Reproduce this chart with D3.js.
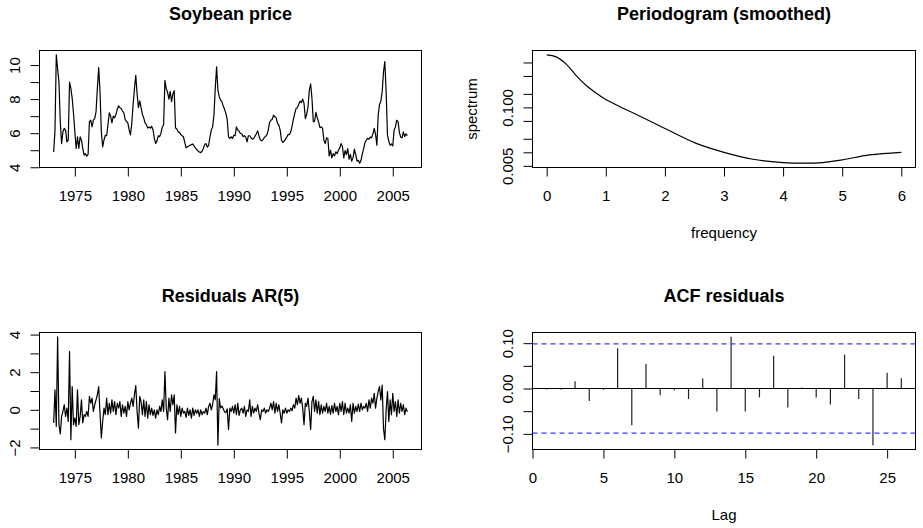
<!DOCTYPE html>
<html><head><meta charset="utf-8">
<script src="https://cdn.jsdelivr.net/npm/d3@7"></script>
<style>
body{margin:0;background:#fff}
text{font-family:"Liberation Sans",Arial,Helvetica,sans-serif;fill:#000}
</style></head><body>
<svg id="c" width="923" height="528"></svg>
<script>
// ---------- data ----------
const soyStart = 1973, soyStep = 0.125;
const soyPrice = [
4.9,6.15,10.6,9.8,9.0,6.67,5.39,6.08,6.28,6.18,
5.49,5.59,9.0,8.63,8.04,7.16,6.08,5.1,5.79,5.1,
5.79,5.59,5.1,4.71,4.8,4.65,4.75,6.67,6.76,6.37,
6.76,6.86,7.26,8.63,9.85,8.43,6.08,5.2,5.6,5.88,
5.85,6.5,7.2,7.0,6.6,7.0,6.9,7.1,7.4,7.6,
7.5,7.45,7.3,7.2,6.8,6.7,6.6,6.2,5.9,6.6,
7.7,8.6,9.4,8.3,7.5,7.9,7.5,7.1,6.9,6.6,
6.5,6.3,6.37,6.3,6.4,6.2,5.7,5.4,5.55,5.85,
5.8,6.0,6.35,6.5,9.1,8.6,8.4,8.0,8.45,7.85,
8.3,8.5,6.3,6.25,6.08,6.05,5.92,5.85,5.79,5.45,
5.14,5.2,5.25,5.29,5.33,5.37,5.25,5.14,5.04,4.96,
4.9,4.86,4.94,5.1,5.33,5.39,5.18,5.29,5.79,6.18,
6.37,7.06,8.63,9.9,8.53,8.14,7.94,7.85,7.6,7.4,
7.16,6.82,5.79,5.69,5.79,5.69,5.88,5.85,6.37,6.18,
6.12,5.98,5.96,5.8,5.85,5.77,5.49,5.85,5.85,5.73,
5.65,5.69,5.82,5.96,6.14,5.85,5.61,5.55,5.61,5.75,
5.81,5.92,6.18,6.63,6.76,6.82,7.06,6.96,6.9,6.57,
6.47,6.18,5.59,5.45,5.53,5.65,5.77,5.92,5.92,6.08,
6.43,6.82,7.16,7.45,7.5,7.7,7.88,7.8,8.0,7.75,
6.86,7.1,7.55,8.53,8.9,8.04,6.67,6.7,7.22,6.9,
6.67,6.32,6.37,6.28,5.59,5.39,5.73,5.69,4.67,5.0,
4.55,4.8,4.67,4.9,4.8,5.0,5.14,5.39,5.22,4.55,
4.98,4.75,5.1,4.47,4.75,4.36,4.55,5.06,4.75,4.36,
4.41,4.24,4.41,4.78,5.1,5.45,5.59,5.69,5.65,5.77,
5.73,5.96,6.28,5.92,5.29,7.06,7.69,7.88,8.43,9.6,
10.2,8.43,5.88,5.53,5.29,5.37,5.25,6.18,6.37,6.76,
6.67,6.04,5.77,5.73,6.08,5.8,5.96,5.85];
const residAR5 = [
-0.7,1.06,-0.88,3.88,-0.79,-1.28,-0.35,-0.09,0.27,-0.35,
0.09,-0.62,3.09,-1.59,1.24,-0.79,-0.44,-0.88,1.06,-0.79,
-0.35,0.53,-0.7,-0.26,-0.35,-0.09,-0.35,0.71,0.35,0.62,
-0.09,0.27,0.53,0.8,1.24,-0.18,-1.5,-0.62,0.09,-0.26,
0.62,-0.26,0.35,-0.18,0.53,-0.09,0.44,-0.26,0.35,0.09,
0.44,-0.35,0.27,-0.18,0.18,-0.35,0.44,0,0.35,0.62,
0.18,0.8,1.29,-0.09,-0.97,0.71,0.44,-0.26,0.53,-0.35,
0.44,-0.44,0.27,-0.26,0.09,-0.3,0,-0.44,0,-0.26,
0.18,-0.09,0.53,-0.09,2.03,0.09,-0.53,0.62,-0.09,0.8,
0.27,0.8,-1.23,0.27,-0.26,0.18,-0.35,0.09,-0.18,-0.09,
-0.4,0.09,-0.3,0,-0.44,0.09,-0.3,0,-0.18,0,
-0.35,0,-0.26,-0.09,-0.18,0.09,-0.26,0.18,0.35,0,
0.27,0.8,0.53,2.03,-1.88,0.6,0.1,0.2,0.05,-0.1,
-0.15,0.05,-1.05,0.09,-0.09,0.18,-0.18,0.27,-0.26,0.35,
-0.3,0,0.09,-0.18,0.18,-0.35,0,-0.09,0.53,-0.35,
0.18,-0.18,0.09,-0.09,0.27,-0.18,-0.53,0,-0.09,0.09,
-0.18,0,-0.09,0.09,0.35,0,0.44,-0.18,0.35,-0.09,
0.27,-0.18,-0.7,0,-0.18,0.09,-0.18,0,-0.09,0.09,
-0.05,0.27,0.09,0.62,0.27,0.75,0.35,0.62,0.09,-0.79,
0.35,0.18,0.62,-0.09,-1.05,0.44,0.71,-0.09,0.53,-0.18,
0.44,-0.26,0.27,-0.18,0.18,-0.09,0.35,-0.18,0.18,-0.24,
0.22,-0.18,0.35,-0.09,0.18,-0.26,0.35,-0.09,0.44,-0.26,
0.35,-0.18,0.09,-0.18,0.27,-0.62,0.35,-0.18,0.18,-0.09,
0.3,-0.09,0.35,0,0.18,0.09,0.35,-0.09,0.53,0.09,
0.62,0.35,0.88,0.09,0.62,0.97,1.24,0.53,1.32,-1.0,
-1.59,0,0.97,-0.62,0.53,-0.26,0.88,-0.09,0.44,-0.35,
0.53,-0.18,0.35,-0.09,0.27,-0.26,0.09,-0.1];
const yearTicks = [1975,1980,1985,1990,1995,2000,2005];
const soyYTicks = [4,5,6,7,8,9,10];
const soyYLabels = [4,6,8,10];
const residYTicks = [-2,-1,0,1,2,3,4];
const residYLabels = [-2,0,2,4];

const specFreq  = [0,0.16,0.33,0.5,0.67,0.84,1.0,1.23,1.51,2.0,2.53,3.0,3.49,4.0,4.33,4.67,5.0,5.46,6.0];
const specValue = [1.479,1.334,0.92,0.508,0.306,0.207,0.15,0.105,0.0702,0.0339,0.0158,0.01,0.00701,0.00592,0.00573,0.00592,0.00678,0.00875,0.01];
const specXTicks = [0,1,2,3,4,5,6];
const specYTicks = [0.005,0.01,0.02,0.05,0.1,0.2,0.5,1];
const specYLabels = [0.005,0.1];

const acfLag   = [1,2,3,4,5,6,7,8,9,10,11,12,13,14,15,16,17,18,19,20,21,22,23,24,25,26];
const acfValue = [-0.002,-0.002,0.016,-0.0275,-0.003,0.089,-0.081,0.054,-0.015,-0.004,-0.023,0.022,-0.051,0.114,-0.051,-0.0195,0.072,-0.042,0.002,-0.02,-0.0355,0.075,-0.023,-0.125,0.035,0.0225];
const acfCI = 0.0985;
const acfXTicks = [0,5,10,15,20,25];
const acfYTicks = [-0.1,-0.05,0,0.05,0.1];
const acfYLabels = [-0.1,0,0.1];

// ---------- layout ----------
const svg = d3.select("#c");
const boxes = {
  tl:{x0:39.5, x1:421.5, y0:50.5, y1:167.5},
  tr:{x0:532.5,x1:915.5, y0:50.5, y1:167.5},
  bl:{x0:39.5, x1:421.5, y0:332.5,y1:449.5},
  br:{x0:532.5,x1:915.5, y0:332.5,y1:449.5}
};
const rext = ([a,b]) => [a-0.04*(b-a), b+0.04*(b-a)];
const FS = 15;

function frame(b, title, xlab, ylab){
  svg.append("rect").attr("x",b.x0).attr("y",b.y0).attr("width",b.x1-b.x0).attr("height",b.y1-b.y0)
    .attr("fill","none").attr("stroke","#000").attr("stroke-width",1);
  const mx=(b.x0+b.x1)/2, my=(b.y0+b.y1)/2;
  svg.append("text").attr("x",mx).attr("y",b.y0-30.5).attr("text-anchor","middle")
    .attr("font-size",18).attr("font-weight","bold").text(title);
  if(xlab) svg.append("text").attr("x",mx).attr("y",b.y1+70).attr("text-anchor","middle").attr("font-size",FS).text(xlab);
  if(ylab) svg.append("text").attr("transform",`translate(${b.x0-56},${my}) rotate(-90)`).attr("text-anchor","middle").attr("font-size",FS).text(ylab);
}
function xAxis(b, x, ticks, fmt){
  const g = svg.append("g").attr("transform",`translate(0,${b.y1})`)
    .call(d3.axisBottom(x).tickValues(ticks).tickSize(9).tickSizeOuter(0).tickPadding(13.8).tickFormat(fmt));
  g.select(".domain").remove();
  g.attr("font-size",FS).attr("font-family",null);
  g.selectAll(".tick line").attr("stroke","#000");
  g.selectAll(".tick text").attr("fill","#000");
}
function yAxis(b, y, ticks, fmt){
  const g = svg.append("g").attr("transform",`translate(${b.x0},0)`)
    .call(d3.axisLeft(y).tickValues(ticks).tickSize(9).tickSizeOuter(0).tickFormat(fmt));
  g.select(".domain").remove();
  g.attr("font-size",FS).attr("font-family",null);
  g.selectAll(".tick line").attr("stroke","#000");
  g.selectAll(".tick text").attr("fill","#000").attr("x",0).attr("dy",null)
    .attr("text-anchor","middle").attr("transform","translate(-20,0) rotate(-90)");
}
const labelIf = (list, f) => d => list.some(v => Math.abs(v-d)<1e-9) ? f(d) : "";

// ---------- Soybean price ----------
{
  const b = boxes.tl;
  const t = soyPrice.map((v,i)=>soyStart+i*soyStep);
  const x = d3.scaleLinear().domain(rext(d3.extent(t))).range([b.x0,b.x1]);
  const y = d3.scaleLinear().domain(rext(d3.extent(soyPrice))).range([b.y1,b.y0]);
  svg.append("path").datum(soyPrice).attr("fill","none").attr("stroke","#000").attr("stroke-width",1.2)
    .attr("stroke-linejoin","round")
    .attr("d", d3.line().x((v,i)=>x(t[i])).y(v=>y(v)));
  frame(b,"Soybean price");
  xAxis(b,x,yearTicks,d3.format("d"));
  yAxis(b,y,soyYTicks,labelIf(soyYLabels,d3.format("d")));
}
// ---------- Residuals ----------
{
  const b = boxes.bl;
  const t = residAR5.map((v,i)=>soyStart+i*soyStep);
  const x = d3.scaleLinear().domain(rext(d3.extent(t))).range([b.x0,b.x1]);
  const y = d3.scaleLinear().domain(rext(d3.extent(residAR5))).range([b.y1,b.y0]);
  svg.append("path").datum(residAR5).attr("fill","none").attr("stroke","#000").attr("stroke-width",1.2)
    .attr("stroke-linejoin","round")
    .attr("d", d3.line().x((v,i)=>x(t[i])).y(v=>y(v)));
  frame(b,"Residuals AR(5)");
  xAxis(b,x,yearTicks,d3.format("d"));
  yAxis(b,y,residYTicks,labelIf(residYLabels,d=>d<0?"\u2212"+Math.abs(d):String(d)));
}
// ---------- Periodogram ----------
{
  const b = boxes.tr;
  const x = d3.scaleLinear().domain(rext(d3.extent(specFreq))).range([b.x0,b.x1]);
  const ld = rext(d3.extent(specValue).map(Math.log10));
  const y = d3.scaleLog().domain(ld.map(v=>Math.pow(10,v))).range([b.y1,b.y0]);
  svg.append("path").datum(specFreq).attr("fill","none").attr("stroke","#000").attr("stroke-width",1.2)
    .attr("d", d3.line().x(f=>x(f)).y((f,i)=>y(specValue[i])).curve(d3.curveCatmullRom.alpha(0.5)));
  frame(b,"Periodogram (smoothed)","frequency","spectrum");
  xAxis(b,x,specXTicks,d3.format("d"));
  yAxis(b,y,specYTicks,labelIf(specYLabels,d3.format(".3f")));
}
// ---------- ACF ----------
{
  const b = boxes.br;
  const x = d3.scaleLinear().domain(rext(d3.extent(acfLag))).range([b.x0,b.x1]);
  const y = d3.scaleLinear().domain(rext([Math.min(-acfCI,d3.min(acfValue)),Math.max(acfCI,d3.max(acfValue))])).range([b.y1,b.y0]);
  svg.append("line").attr("x1",b.x0).attr("x2",b.x1).attr("y1",y(0)).attr("y2",y(0)).attr("stroke","#000").attr("stroke-width",1.2);
  svg.selectAll(".acfbar").data(acfLag).join("line").attr("class","acfbar")
    .attr("x1",d=>x(d)).attr("x2",d=>x(d)).attr("y1",y(0)).attr("y2",(d,i)=>y(acfValue[i]))
    .attr("stroke","#222").attr("stroke-width",1.2);
  [acfCI,-acfCI].forEach(c=>svg.append("line").attr("x1",b.x0).attr("x2",b.x1).attr("y1",y(c)).attr("y2",y(c))
    .attr("stroke","#3b3bff").attr("stroke-width",1.2).attr("stroke-dasharray","5,4"));
  frame(b,"ACF residuals","Lag");
  xAxis(b,x,acfXTicks,d3.format("d"));
  yAxis(b,y,acfYTicks,labelIf(acfYLabels,d=>d<0?"\u2212"+Math.abs(d).toFixed(2):d.toFixed(2)));
}
</script>
</body></html>
